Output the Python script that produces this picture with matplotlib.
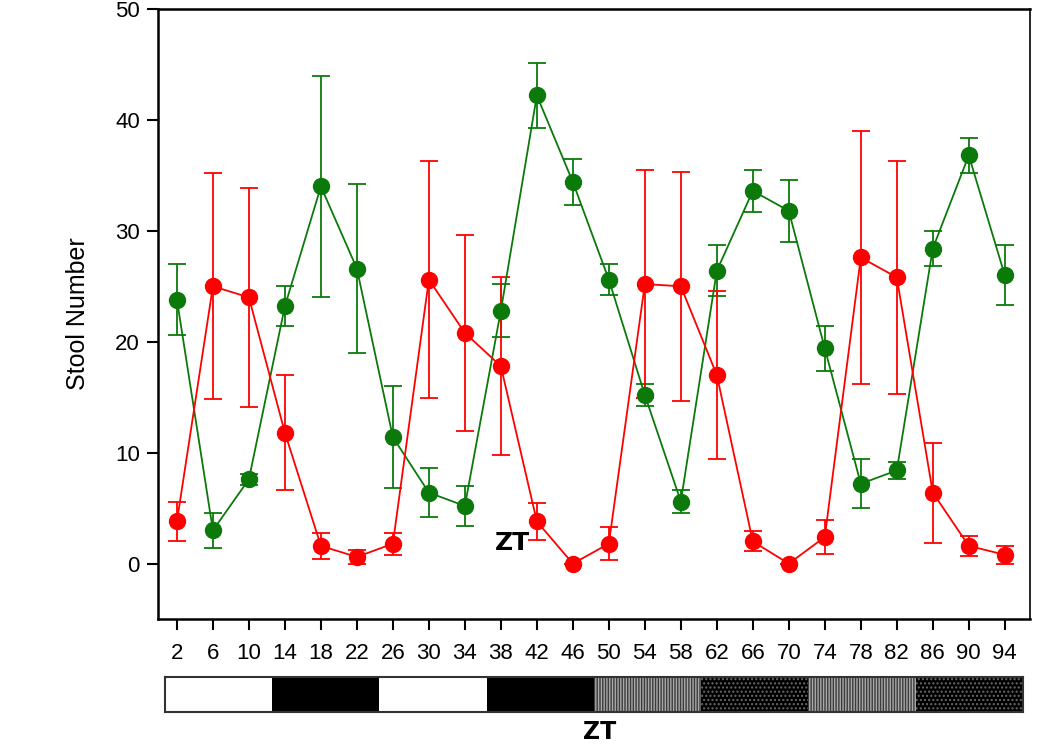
import matplotlib
matplotlib.use('Agg')
import matplotlib.pyplot as plt
from matplotlib.patches import Rectangle

plt.rcParams['font.family'] = ['Liberation Sans', 'DejaVu Sans']
plt.rcParams['hatch.linewidth'] = 1.0

# sampling times (ZT)
zt = [2, 6, 10, 14, 18, 22, 26, 30, 34, 38, 42, 46,
      50, 54, 58, 62, 66, 70, 74, 78, 82, 86, 90, 94]

green_mean = [23.8, 3.0, 7.6, 23.2, 34.0, 26.6, 11.4, 6.4, 5.2, 22.8, 42.2, 34.4,
              25.6, 15.2, 5.6, 26.4, 33.6, 31.8, 19.4, 7.2, 8.4, 28.4, 36.8, 26.0]
green_err = [3.2, 1.6, 0.5, 1.8, 10.0, 7.6, 4.6, 2.2, 1.8, 2.4, 2.9, 2.1,
             1.4, 1.0, 1.0, 2.3, 1.9, 2.8, 2.0, 2.2, 0.8, 1.6, 1.6, 2.7]

red_mean = [3.8, 25.0, 24.0, 11.8, 1.6, 0.6, 1.8, 25.6, 20.8, 17.8, 3.8, 0.0,
            1.8, 25.2, 25.0, 17.0, 2.0, 0.0, 2.4, 27.6, 25.8, 6.4, 1.6, 0.8]
red_err = [1.8, 10.2, 9.9, 5.2, 1.2, 0.6, 1.0, 10.7, 8.8, 8.0, 1.7, 0.0,
           1.5, 10.3, 10.3, 7.6, 0.9, 0.0, 1.5, 11.4, 10.5, 4.5, 0.9, 0.8]

# light/dark schedule bar under the axis
phases = ['light', 'dark', 'light', 'dark', 'subj', 'dd', 'subj', 'dd']

fig = plt.figure(figsize=(10.43, 7.45), dpi=100)
ax = fig.add_axes([0.1515, 0.169, 0.836, 0.819])

ax.errorbar(zt, green_mean, yerr=green_err, color='#0b7a0b', marker='o',
            markersize=11.5, linewidth=1.3, elinewidth=1.3, capsize=6.5, capthick=1.3)
ax.errorbar(zt, red_mean, yerr=red_err, color='#ff0000', marker='o',
            markersize=11.5, linewidth=1.3, elinewidth=1.3, capsize=6.5, capthick=1.3)

ax.set_xlim(-0.1, 96.8)
ax.set_ylim(-5, 50)
ax.set_xticks(zt)
ax.set_yticks([0, 10, 20, 30, 40, 50])
ax.tick_params(axis='both', direction='out', length=8, width=1.5, labelsize=16)
ax.tick_params(axis='x', pad=9)
ax.tick_params(axis='y', pad=5)
for s in ['left', 'bottom', 'top']:
    ax.spines[s].set_linewidth(1.8)
ax.spines['right'].set_linewidth(1.2)
ax.set_ylabel('Stool Number', fontsize=18, labelpad=18)

ax.text(39.3, 1.9, 'ZT', fontsize=18, fontweight='bold', family='DejaVu Sans',
        ha='center', va='center')

bax = fig.add_axes([0.1582, 0.0443, 0.8226, 0.047])
bax.set_xlim(0, len(phases))
bax.set_ylim(0, 1)
styles = {
    'light': dict(facecolor='white', edgecolor='white', hatch=None),
    'dark': dict(facecolor='black', edgecolor='black', hatch=None),
    'subj': dict(facecolor='#3c3c3c', edgecolor='#a8a8a8', hatch='||||||'),
    'dd': dict(facecolor='black', edgecolor='#6a6a6a', hatch='....'),
}
for i, p in enumerate(phases):
    st = styles[p]
    bax.add_patch(Rectangle((i, 0), 1, 1, linewidth=0, **st))
bax.set_xticks([])
bax.set_yticks([])
for s in bax.spines.values():
    s.set_linewidth(1.5)
    s.set_color('#333333')

fig.text(0.575, 0.002, 'ZT', fontsize=17, fontweight='bold', family='DejaVu Sans',
         ha='center', va='bottom')

fig.savefig('out.png', dpi=100)
